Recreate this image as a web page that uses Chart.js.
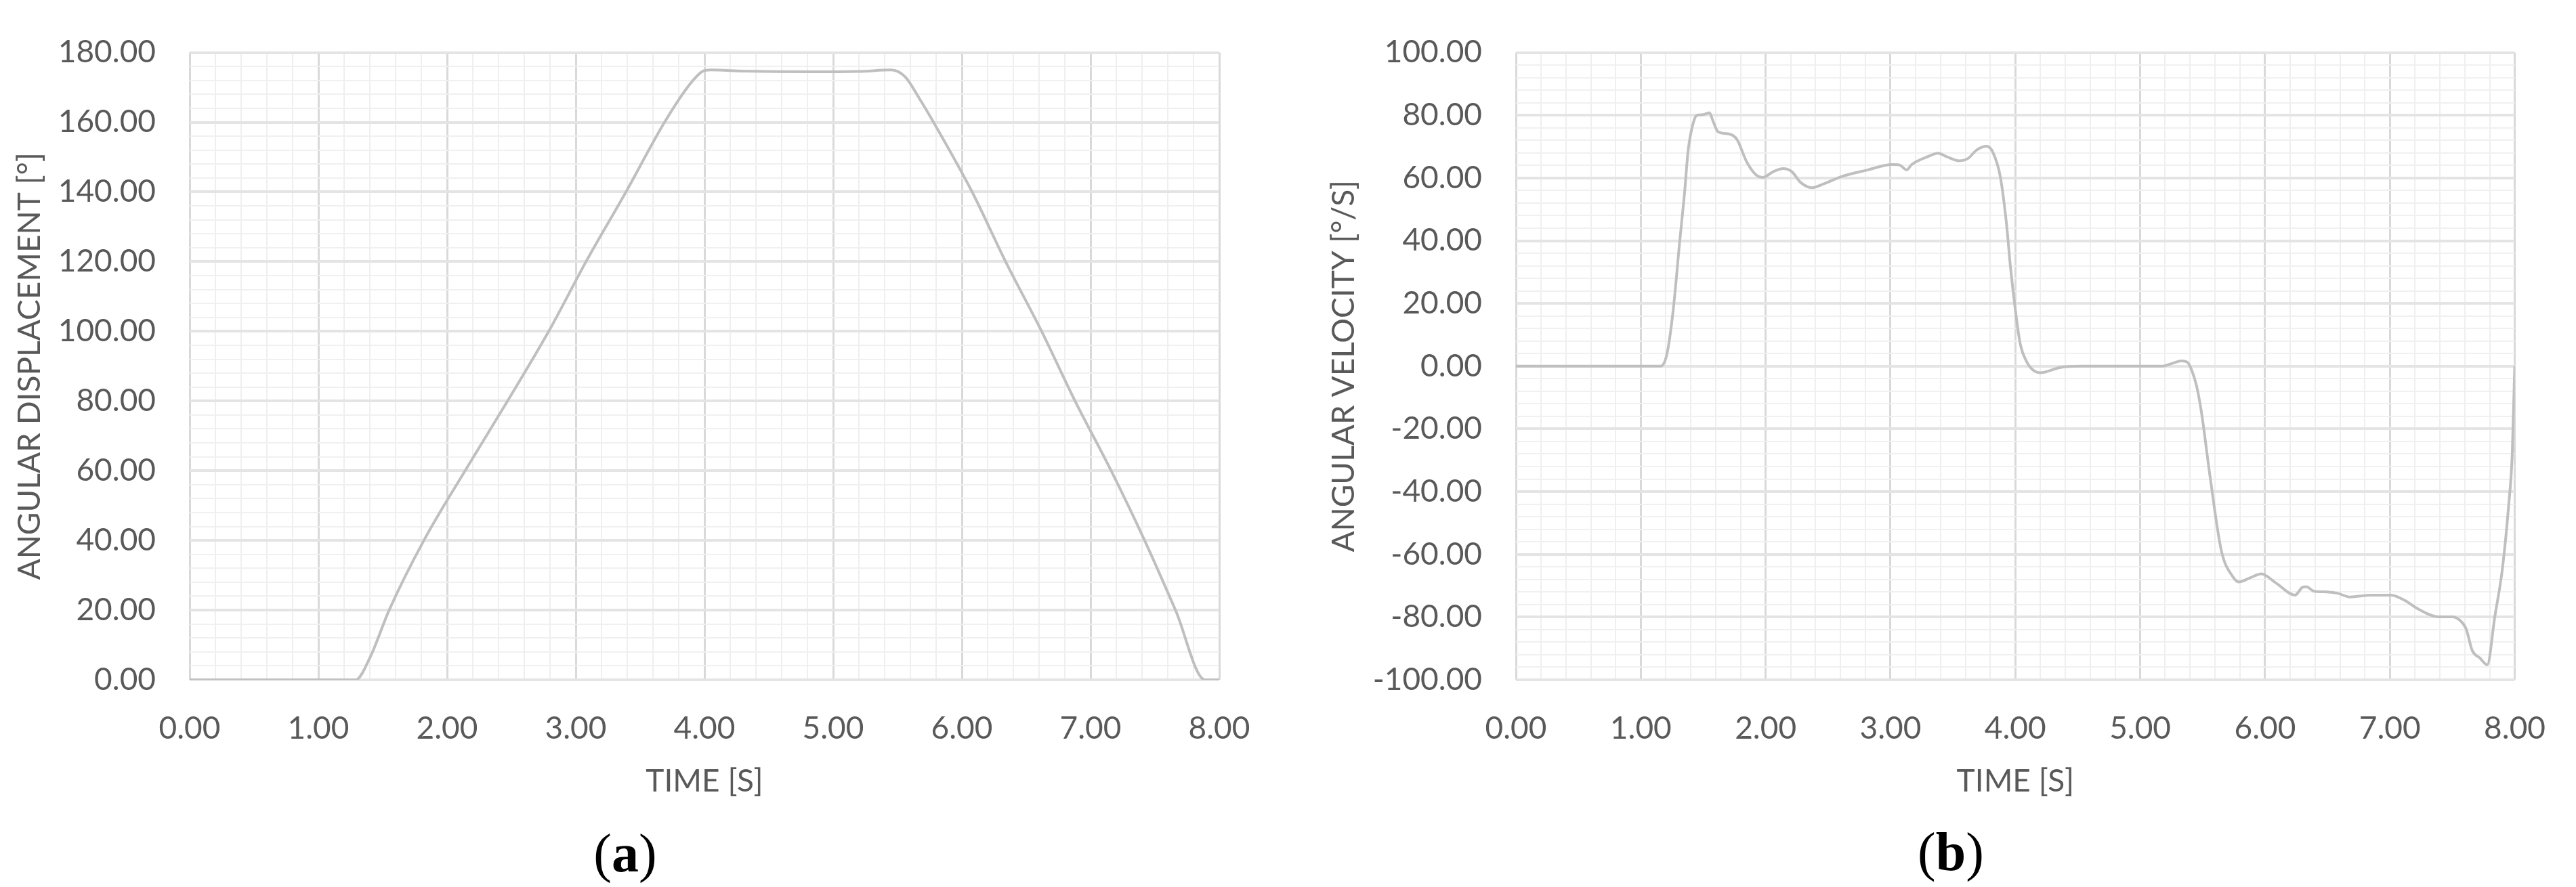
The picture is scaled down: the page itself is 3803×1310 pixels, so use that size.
<!DOCTYPE html>
<html>
<head>
<meta charset="utf-8">
<script src="https://cdn.jsdelivr.net/npm/chart.js@4.4.1/dist/chart.umd.min.js"></script>
<style>
  body { margin: 0; background: #fff; width: 3803px; height: 1310px; position: relative; overflow: hidden; }
  .box { position: absolute; top: 0; }
  .lbl { position: absolute; font-family: "Liberation Serif", "Times New Roman", serif; font-size: 80px;
         color: #000; transform: translate(-50%, -50%); white-space: nowrap; }
</style>
</head>
<body>
<div class="box" style="left:0"><canvas id="chartA" width="1900" height="1310"></canvas></div>
<div class="box" style="left:1900px"><canvas id="chartB" width="1903" height="1310"></canvas></div>
<div class="lbl" style="left:923px;top:1260px">(<b>a</b>)</div>
<div class="lbl" style="left:2880px;top:1258px">(<b>b</b>)</div>
<script>
// (a) angular displacement
var dispTime = [0, 1.00, 1.29, 1.40, 1.55, 1.82, 2.14, 2.47, 2.79, 3.08, 3.39, 3.69, 3.88, 3.98, 4.05,
                4.30, 4.80, 5.20, 5.45, 5.56, 5.67, 5.78, 6.08, 6.34, 6.62, 6.88, 7.16, 7.42, 7.66, 7.89, 8.00];
var dispDeg  = [0, 0, 0, 6.3, 20, 40, 60, 80, 100, 120, 140, 160, 170.6, 174.5, 175,
                174.7, 174.5, 174.6, 175, 173, 166.8, 160, 140, 120, 100, 80, 60, 40, 20, 0, 0];

// (b) angular velocity
var velTime = [0, 1.16, 1.21, 1.26, 1.31, 1.35, 1.38, 1.42, 1.45, 1.50, 1.55, 1.58, 1.62, 1.71, 1.77,
               1.85, 1.94, 1.98, 2.06, 2.14, 2.21, 2.28, 2.37, 2.47, 2.61, 2.82, 3.01, 3.07, 3.13, 3.17,
               3.31, 3.38, 3.45, 3.55, 3.62, 3.69, 3.77, 3.82, 3.88, 3.93, 3.96, 4.00, 4.04, 4.09, 4.14,
               4.20, 4.36, 4.52, 5.17, 5.25, 5.33, 5.38, 5.41, 5.45, 5.49, 5.56, 5.65, 5.74, 5.79, 5.88,
               5.97, 6.09, 6.24, 6.30, 6.33, 6.39, 6.50, 6.58, 6.68, 6.85, 7.01, 7.12, 7.23, 7.39, 7.50,
               7.56, 7.61, 7.66, 7.72, 7.78, 7.84, 7.90, 7.95, 7.98, 8.00];
var velDeg  = [0, 0, 4, 18, 39, 55, 69, 77.5, 80, 80.2, 80.8, 78, 74.7, 74, 72.3,
               65, 60.5, 60.2, 62, 63, 62, 58.6, 56.9, 58.2, 60.5, 62.6, 64.3, 64.2, 62.6, 64.3,
               67, 67.9, 66.8, 65.5, 66.2, 68.9, 70.1, 68.2, 60.3, 45.1, 32, 18, 7, 1.5, -1.2,
               -2.1, -0.4, 0, 0, 0.8, 1.7, 1.2, -1, -6, -14.5, -35.3, -58.8, -67, -68.8, -67.5,
               -66.2, -69.2, -73, -70.5, -70.3, -71.7, -72, -72.4, -73.6, -73, -73, -74.7, -77.5, -79.9, -79.9,
               -81, -83.7, -90.7, -93, -95.2, -80, -65, -45, -28, 0];

var timeTicks = [0, 8, 0.2, 1];           // min, max, minor step, major step
var dispTicks = [0, 180, 4, 20];
var velTicks  = [-100, 100, 4, 20];

Chart.defaults.font.family = 'Lato';
Chart.defaults.color = '#595959';

function isMajor(v, step) {
  var q = v / step;
  return Math.abs(q - Math.round(q)) < 1e-6;
}

function points(xs, ys) {
  return xs.map(function (x, i) { return { x: x, y: ys[i] }; });
}

function makeChart(id, xs, ys, yT, yTitle, pad, yWidth, yTitlePad) {
  return new Chart(document.getElementById(id), {
    type: 'line',
    data: {
      datasets: [{
        data: points(xs, ys),
        borderColor: '#bfbfbf',
        borderWidth: 4,
        pointRadius: 0,
        fill: false,
        cubicInterpolationMode: 'monotone'
      }]
    },
    options: {
      responsive: false,
      animation: false,
      layout: { padding: pad },
      plugins: { legend: { display: false }, tooltip: { enabled: false } },
      scales: {
        x: {
          type: 'linear',
          min: timeTicks[0], max: timeTicks[1],
          afterFit: function (s) { s.height = 180; },
          border: { display: false },
          grid: {
            drawTicks: false,
            color: function (c) { return isMajor(c.tick.value, timeTicks[3]) ? '#d9d9d9' : '#efefef'; },
            lineWidth: function (c) { return isMajor(c.tick.value, timeTicks[3]) ? 3 : 2; }
          },
          ticks: {
            stepSize: timeTicks[2], autoSkip: false, maxRotation: 0, padding: 45,
            font: { size: 46 },
            callback: function (v) { return isMajor(v, timeTicks[3]) ? v.toFixed(2) : ''; }
          },
          title: { display: true, text: 'TIME [S]', font: { size: 46 }, padding: { top: 0, bottom: 2 } }
        },
        y: {
          min: yT[0], max: yT[1],
          afterFit: function (s) { s.width = yWidth; },
          border: { display: false },
          grid: {
            drawTicks: false,
            color: function (c) { return isMajor(c.tick.value, yT[3]) ? '#e4e4e4' : '#f0f0f0'; },
            lineWidth: function (c) { return isMajor(c.tick.value, yT[3]) ? 4 : 2; }
          },
          ticks: {
            stepSize: yT[2], autoSkip: false, padding: 50,
            font: { size: 46 },
            callback: function (v) { return isMajor(v, yT[3]) ? v.toFixed(2) : ''; }
          },
          title: { display: true, text: yTitle, font: { size: 46 }, padding: { top: yTitlePad, bottom: 0 } }
        }
      }
    }
  });
}

makeChart('chartA', dispTime, dispDeg, dispTicks, 'ANGULAR DISPLACEMENT [°]',
          { left: 0, top: 44, right: 100, bottom: 126 }, 280, 17);
makeChart('chartB', velTime, velDeg, velTicks, 'ANGULAR VELOCITY [°/S]',
          { left: 0, top: 36, right: 55, bottom: 126 }, 338, 57);
</script>
</body>
</html>
